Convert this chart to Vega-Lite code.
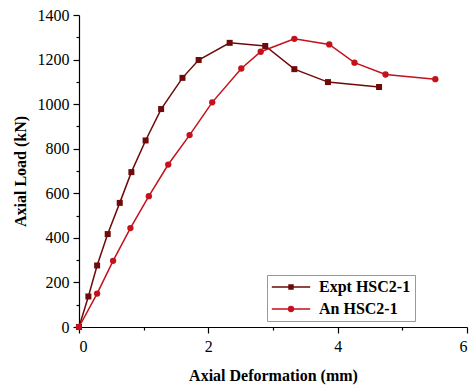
{
  "$schema": "https://vega.github.io/schema/vega-lite/v6.json",
  "width": 388,
  "height": 312,
  "autosize": {"type": "none"},
  "padding": {"left": 79, "top": 15, "right": 7, "bottom": 64},
  "background": "white",
  "config": {
    "view": {"stroke": null},
    "font": "Liberation Serif"
  },
  "data": {
    "values": [
      {"series": "Expt HSC2-1", "deformation": 0, "load": 0},
      {"series": "Expt HSC2-1", "deformation": 0.145, "load": 137},
      {"series": "Expt HSC2-1", "deformation": 0.28, "load": 276},
      {"series": "Expt HSC2-1", "deformation": 0.444, "load": 417},
      {"series": "Expt HSC2-1", "deformation": 0.63, "load": 557},
      {"series": "Expt HSC2-1", "deformation": 0.81, "load": 695},
      {"series": "Expt HSC2-1", "deformation": 1.03, "load": 837},
      {"series": "Expt HSC2-1", "deformation": 1.27, "load": 978},
      {"series": "Expt HSC2-1", "deformation": 1.6, "load": 1118},
      {"series": "Expt HSC2-1", "deformation": 1.85, "load": 1198},
      {"series": "Expt HSC2-1", "deformation": 2.33, "load": 1275},
      {"series": "Expt HSC2-1", "deformation": 2.88, "load": 1261},
      {"series": "Expt HSC2-1", "deformation": 3.33, "load": 1157},
      {"series": "Expt HSC2-1", "deformation": 3.85, "load": 1099},
      {"series": "Expt HSC2-1", "deformation": 4.64, "load": 1077},
      {"series": "An HSC2-1", "deformation": 0, "load": 0},
      {"series": "An HSC2-1", "deformation": 0.28, "load": 150},
      {"series": "An HSC2-1", "deformation": 0.527, "load": 297},
      {"series": "An HSC2-1", "deformation": 0.795, "load": 444},
      {"series": "An HSC2-1", "deformation": 1.08, "load": 587},
      {"series": "An HSC2-1", "deformation": 1.38, "load": 729},
      {"series": "An HSC2-1", "deformation": 1.71, "load": 861},
      {"series": "An HSC2-1", "deformation": 2.06, "load": 1008},
      {"series": "An HSC2-1", "deformation": 2.51, "load": 1160},
      {"series": "An HSC2-1", "deformation": 2.81, "load": 1235},
      {"series": "An HSC2-1", "deformation": 3.33, "load": 1293},
      {"series": "An HSC2-1", "deformation": 3.87, "load": 1268},
      {"series": "An HSC2-1", "deformation": 4.26, "load": 1186},
      {"series": "An HSC2-1", "deformation": 4.74, "load": 1133},
      {"series": "An HSC2-1", "deformation": 5.51, "load": 1112}
    ]
  },
  "encoding": {
    "x": {
      "field": "deformation",
      "type": "quantitative",
      "scale": {"domain": [0, 6], "nice": false},
      "axis": {
        "title": "Axial Deformation (mm)",
        "values": [0, 1, 2, 3, 4, 5, 6],
        "labelExpr": "datum.value % 2 === 0 ? datum.label : ''",
        "tickSize": {"condition": {"test": "datum.value % 2 === 0", "value": 6}, "value": 3},
        "grid": false,
        "domainColor": "#000",
        "domainWidth": 1.2,
        "tickColor": "#000",
        "tickWidth": 1.2,
        "labelFont": "Liberation Serif",
        "labelFontSize": 16,
        "labelColor": "#000",
        "labelPadding": 5,
        "titleFont": "Liberation Serif",
        "titleFontSize": 16,
        "titleFontWeight": "bold",
        "titleColor": "#000",
        "titlePadding": 13
      }
    },
    "y": {
      "field": "load",
      "type": "quantitative",
      "scale": {"domain": [0, 1400], "nice": false},
      "axis": {
        "title": "Axial Load (kN)",
        "values": [0, 100, 200, 300, 400, 500, 600, 700, 800, 900, 1000, 1100, 1200, 1300, 1400],
        "labelExpr": "datum.value % 200 === 0 ? datum.label : ''",
        "format": "d",
        "tickSize": {"condition": {"test": "datum.value % 200 === 0", "value": 6}, "value": 3},
        "grid": false,
        "domainColor": "#000",
        "domainWidth": 1.2,
        "tickColor": "#000",
        "tickWidth": 1.2,
        "labelFont": "Liberation Serif",
        "labelFontSize": 16,
        "labelColor": "#000",
        "labelPadding": 4,
        "titleFont": "Liberation Serif",
        "titleFontSize": 16,
        "titleFontWeight": "bold",
        "titleColor": "#000",
        "titlePadding": 9
      }
    },
    "color": {
      "field": "series",
      "type": "nominal",
      "scale": {"domain": ["Expt HSC2-1", "An HSC2-1"], "range": ["#6e0a0a", "#c4111b"]},
      "legend": {
        "title": null,
        "orient": "none",
        "legendX": 188,
        "legendY": 260,
        "strokeColor": "#999",
        "padding": 4,
        "symbolSize": 144,
        "symbolStrokeWidth": 1.5,
        "symbolOpacity": 1,
        "symbolOffset": 12,
        "labelFont": "Liberation Serif",
        "labelFontSize": 16,
        "labelFontWeight": "bold",
        "labelColor": "#000",
        "labelOffset": 20,
        "rowPadding": 6
      }
    }
  },
  "layer": [
    {
      "mark": {"type": "line", "strokeWidth": 1.5},
      "encoding": {"detail": {"field": "series"}}
    },
    {
      "transform": [{"filter": "datum.series === 'Expt HSC2-1'"}],
      "mark": {"type": "point", "filled": true, "opacity": 1, "size": 36, "shape": "square"}
    },
    {
      "transform": [{"filter": "datum.series === 'An HSC2-1'"}],
      "mark": {"type": "point", "filled": true, "opacity": 1, "size": 40, "shape": "circle"}
    },
    {
      "mark": {"type": "point", "filled": true, "opacity": 0, "size": 36},
      "encoding": {
        "shape": {
          "field": "series",
          "type": "nominal",
          "scale": {
            "domain": ["Expt HSC2-1", "An HSC2-1"],
            "range": [
              "M-3.2,0H3.2M-0.33,-0.33H0.33V0.33H-0.33Z",
              "M-3.2,0H3.2M0.4,0A0.4,0.4 0 1 1 -0.4,0A0.4,0.4 0 1 1 0.4,0Z"
            ]
          },
          "legend": {
            "title": null,
            "orient": "none",
            "legendX": 188,
            "legendY": 260,
            "strokeColor": "#999",
            "padding": 4,
            "symbolSize": 144,
            "symbolStrokeWidth": 1.5,
            "symbolOpacity": 1,
            "symbolOffset": 12,
            "labelFont": "Liberation Serif",
            "labelFontSize": 16,
            "labelFontWeight": "bold",
            "labelColor": "#000",
            "labelOffset": 20,
            "rowPadding": 6
          }
        }
      }
    }
  ]
}
